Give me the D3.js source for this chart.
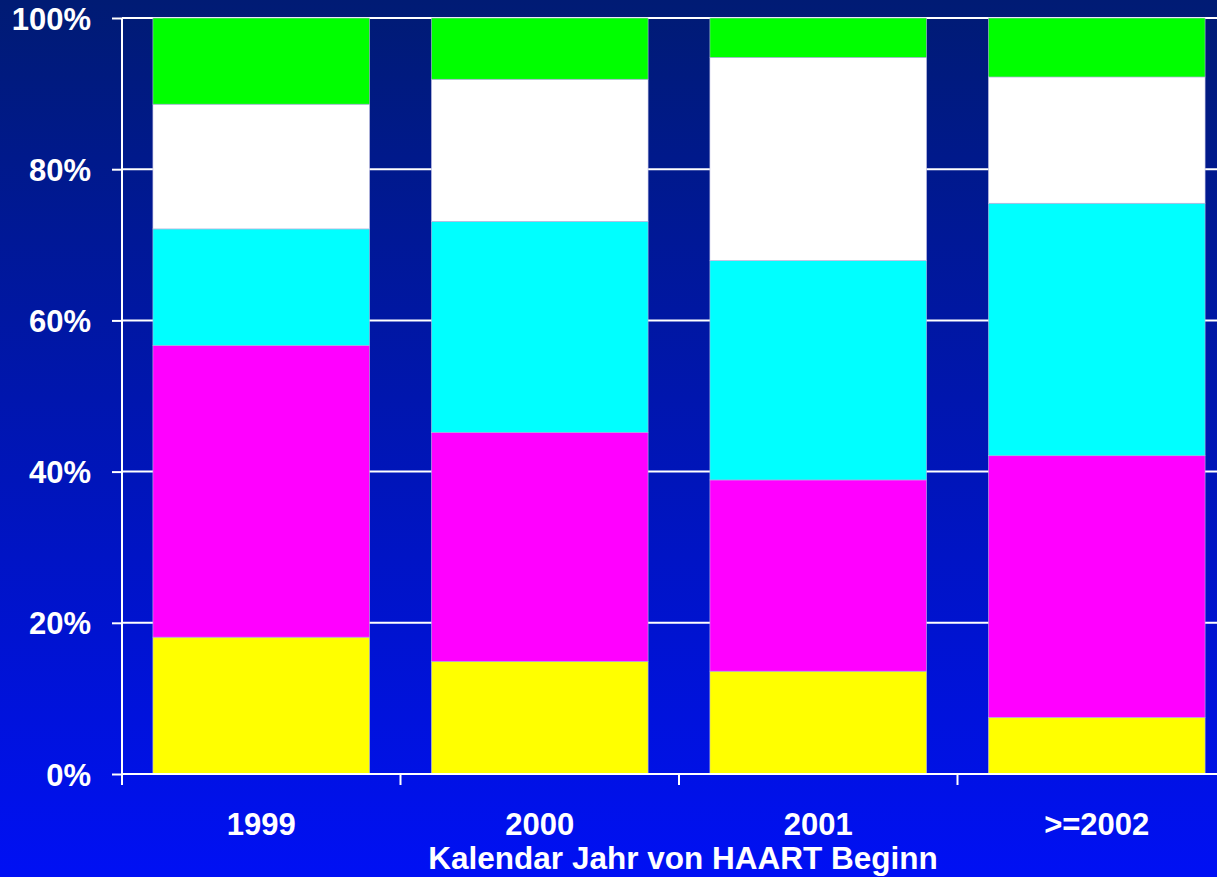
<!DOCTYPE html>
<html>
<head>
<meta charset="utf-8">
<script src="https://cdn.jsdelivr.net/npm/d3@7"></script>
<style>
  html, body { margin: 0; padding: 0; overflow: hidden; }
  svg { display: block; font-family: "Liberation Sans", Arial, sans-serif; }
</style>
</head>
<body>
<div id="chart"></div>
<script>
// data (percent of patients per start year)
const categories = ["1999", "2000", "2001", ">=2002"];
const seriesNames = ["s1", "s2", "s3", "s4", "s5"];
const seriesColors = ["#ffff00", "#ff00ff", "#00ffff", "#ffffff", "#00ff00"];
const s1 = [18.1, 14.9, 13.6, 7.5];
const s2 = [38.6, 30.3, 25.3, 34.6];
const s3 = [15.4, 27.9, 29.0, 33.4];
const s4 = [16.5, 18.8, 26.9, 16.7];
const s5 = [11.4, 8.1, 5.2, 7.8];
const yTicks = [0, 20, 40, 60, 80, 100];
const xTitle = "Kalendar Jahr von HAART Beginn";

function renderChart() {
    const width = 1217, height = 877;
    const margin = {top: 18, left: 122, bottom: 103};
    const bandW = 278.5;
    const plotBottom = height - margin.bottom;

    const rows = categories.map((c, i) => ({
        cat: c, s1: s1[i], s2: s2[i], s3: s3[i], s4: s4[i], s5: s5[i]
    }));
    const stacked = d3.stack().keys(seriesNames)(rows);

    const x = d3.scaleBand()
        .domain(categories)
        .range([margin.left, margin.left + bandW * categories.length])
        .paddingInner(0.222)
        .paddingOuter(0.111);
    const y = d3.scaleLinear().domain([0, 100]).range([plotBottom, margin.top]);

    const svg = d3.create("svg")
        .attr("width", width)
        .attr("height", height);

    // background gradient
    const grad = svg.append("defs").append("linearGradient")
        .attr("id", "bg").attr("x1", 0).attr("y1", 0).attr("x2", 0).attr("y2", 1);
    grad.append("stop").attr("offset", "0%").attr("stop-color", "#001b74");
    grad.append("stop").attr("offset", "100%").attr("stop-color", "#0010f4");
    svg.append("rect")
        .attr("width", width).attr("height", height)
        .attr("fill", "url(#bg)");

    // gridlines
    svg.append("g")
        .selectAll("line")
        .data(yTicks.filter(d => d > 0))
        .join("line")
        .attr("x1", margin.left)
        .attr("x2", margin.left + bandW * categories.length)
        .attr("y1", d => y(d))
        .attr("y2", d => y(d))
        .attr("stroke", "white")
        .attr("stroke-width", 2);

    // bars
    svg.append("g")
        .selectAll("g")
        .data(stacked)
        .join("g")
        .attr("fill", (d, i) => seriesColors[i])
        .selectAll("rect")
        .data(d => d)
        .join("rect")
        .attr("x", d => x(d.data.cat))
        .attr("width", x.bandwidth())
        .attr("y", d => y(d[1]))
        .attr("height", d => y(d[0]) - y(d[1]))
        .attr("stroke", "#b8b8e0")
        .attr("stroke-width", 0.6);

    // y axis
    const yAxis = svg.append("g")
        .attr("transform", `translate(${margin.left},0)`)
        .call(d3.axisLeft(y).tickValues(yTicks).tickFormat(d => d + "%").tickSize(10).tickPadding(21));
    yAxis.select(".domain").remove();
    yAxis.append("line")
        .attr("y1", margin.top).attr("y2", plotBottom + 11)
        .attr("stroke", "white").attr("stroke-width", 2);
    yAxis.selectAll(".tick line").attr("stroke", "white").attr("stroke-width", 2);
    yAxis.selectAll(".tick text")
        .attr("fill", "white")
        .attr("font-size", 31)
        .attr("font-weight", "bold")
        .attr("dy", "0.36em");

    // x axis
    const bandStarts = categories.map((c, i) => margin.left + i * bandW);
    const xg = svg.append("g");
    xg.append("line")
        .attr("x1", margin.left).attr("x2", margin.left + bandW * categories.length)
        .attr("y1", plotBottom).attr("y2", plotBottom)
        .attr("stroke", "white").attr("stroke-width", 2);
    xg.selectAll("line.tk")
        .data(bandStarts)
        .join("line")
        .attr("class", "tk")
        .attr("x1", d => d).attr("x2", d => d)
        .attr("y1", plotBottom).attr("y2", plotBottom + 11)
        .attr("stroke", "white").attr("stroke-width", 2);
    xg.selectAll("text")
        .data(categories)
        .join("text")
        .attr("x", d => x(d) + x.bandwidth() / 2)
        .attr("y", 835)
        .attr("text-anchor", "middle")
        .attr("fill", "white")
        .attr("font-size", 31)
        .attr("font-weight", "bold")
        .text(d => d);

    svg.append("text")
        .attr("x", 683)
        .attr("y", 869)
        .attr("text-anchor", "middle")
        .attr("fill", "white")
        .attr("font-size", 31.5)
        .attr("font-weight", "bold")
        .text(xTitle);

    document.getElementById("chart").appendChild(svg.node());
}

renderChart();
</script>
</body>
</html>
